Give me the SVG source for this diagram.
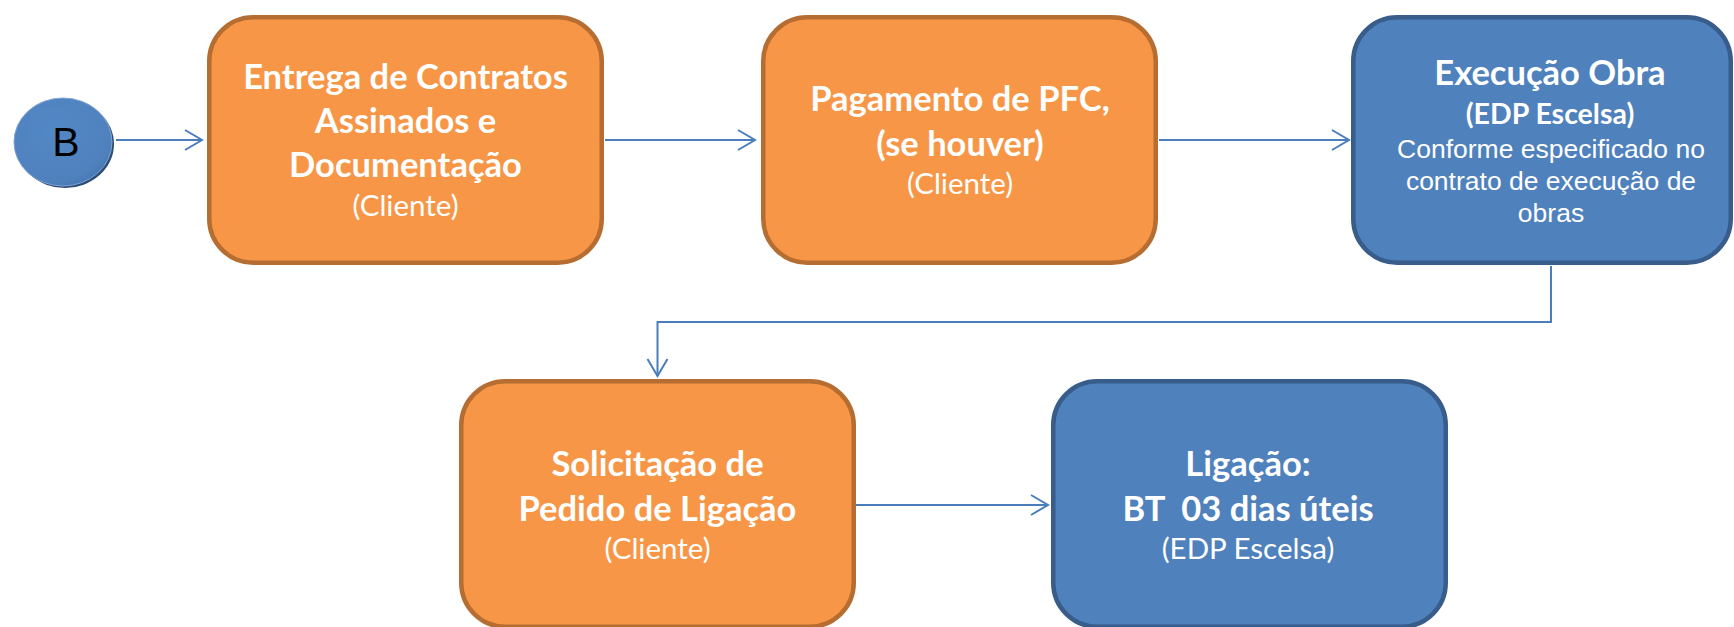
<svg xmlns="http://www.w3.org/2000/svg" width="1734" height="627" viewBox="0 0 1734 627">
  <defs>
    <style>
      .orange { fill: #F79646; stroke: #B66D31; stroke-width: 4.5; }
      .blue { fill: #4F81BD; stroke: #385D8A; stroke-width: 4.5; }
      .conn { fill: none; stroke: #4A7EBB; stroke-width: 2; }
      .t { fill: #FFFFFF; text-anchor: middle; font-family: Lato, "Open Sans", sans-serif; }
      .b { font-weight: bold; font-size: 34.5px; }
      .bs { font-weight: bold; font-size: 28.5px; }
      .r { font-weight: normal; font-size: 29.5px; }
      .a { fill: #FFFFFF; text-anchor: middle; font-family: "Liberation Sans", Arial, sans-serif; font-size: 26.5px; }
    </style>
    <marker id="arr" viewBox="0 0 20 24" refX="18" refY="12" markerWidth="20" markerHeight="24" markerUnits="userSpaceOnUse" orient="auto">
      <path d="M1,2 L18,12 L1,22" fill="none" stroke="#4A7EBB" stroke-width="2"/>
    </marker>
    <radialGradient id="circGrad" cx="0.4" cy="0.35" r="0.7">
      <stop offset="0" stop-color="#5288C6"/>
      <stop offset="0.85" stop-color="#4F81BD"/>
      <stop offset="1" stop-color="#4677B2"/>
    </radialGradient>
  </defs>

  <g id="connectors">
    <line class="conn" x1="116" y1="140" x2="202" y2="140" marker-end="url(#arr)"/>
    <line class="conn" x1="605" y1="140" x2="755" y2="140" marker-end="url(#arr)"/>
    <line class="conn" x1="1159" y1="140" x2="1349" y2="140" marker-end="url(#arr)"/>
    <polyline class="conn" points="1551,266 1551,322 657.5,322 657.5,376" marker-end="url(#arr)"/>
    <line class="conn" x1="856" y1="505" x2="1048" y2="505" marker-end="url(#arr)"/>
  </g>

  <g id="node-b">
    <ellipse cx="65" cy="144" rx="49" ry="44" fill="#2C4C74"/>
    <ellipse cx="63" cy="142" rx="49" ry="44" fill="url(#circGrad)" stroke="#7FA4D3" stroke-width="1"/>
    <text x="66" y="156" font-family="'Liberation Sans', Arial, sans-serif" font-size="41" fill="#000000" text-anchor="middle">B</text>
  </g>

  <g id="node-entrega">
    <rect class="orange" x="209.25" y="17.25" width="392.5" height="245.5" rx="44" ry="44"/>
    <text class="t b" x="405.5" y="89">Entrega de Contratos</text>
    <text class="t b" x="405.5" y="133">Assinados e</text>
    <text class="t b" x="405.5" y="177">Documentação</text>
    <text class="t r" x="405.5" y="216">(Cliente)</text>
  </g>

  <g id="node-pagamento">
    <rect class="orange" x="763.25" y="17.25" width="392.5" height="245.5" rx="44" ry="44"/>
    <text class="t b" x="960" y="111">Pagamento de PFC,</text>
    <text class="t b" x="960" y="156">(se houver)</text>
    <text class="t r" x="960" y="194">(Cliente)</text>
  </g>

  <g id="node-execucao">
    <rect class="blue" x="1353.25" y="17.25" width="377.5" height="245.5" rx="44" ry="44"/>
    <text class="t b" x="1550" y="85">Execução Obra</text>
    <text class="t bs" x="1550" y="124">(EDP Escelsa)</text>
    <text class="a" x="1551" y="158">Conforme especificado no</text>
    <text class="a" x="1551" y="190">contrato de execução de</text>
    <text class="a" x="1551" y="222">obras</text>
  </g>

  <g id="node-solicitacao">
    <rect class="orange" x="461.25" y="381.25" width="392.5" height="245.5" rx="44" ry="44"/>
    <text class="t b" x="657.5" y="476">Solicitação de</text>
    <text class="t b" x="657.5" y="521">Pedido de Ligação</text>
    <text class="t r" x="657.5" y="559">(Cliente)</text>
  </g>

  <g id="node-ligacao">
    <rect class="blue" x="1053.25" y="381.25" width="392.5" height="245.5" rx="44" ry="44"/>
    <text class="t b" x="1248" y="476">Ligação:</text>
    <text class="t b" x="1248" y="521" xml:space="preserve">BT  03 dias úteis</text>
    <text class="t r" x="1248" y="559">(EDP Escelsa)</text>
  </g>
</svg>
